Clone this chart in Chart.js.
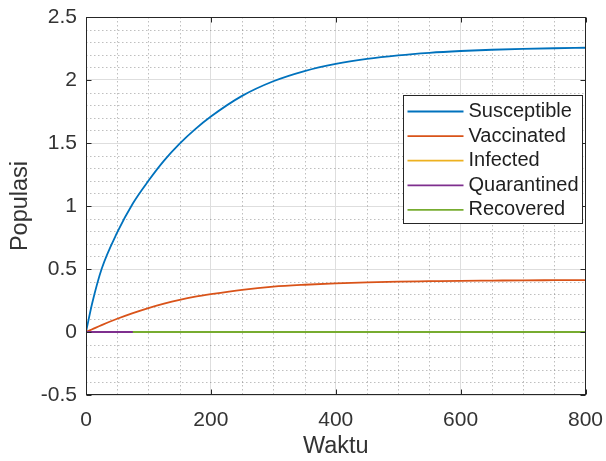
<!DOCTYPE html>
<html lang="en">
<head>
<meta charset="UTF-8">
<title>Populasi vs Waktu</title>
<script src="https://cdn.jsdelivr.net/npm/chart.js"></script>
<style>
    html, body { margin: 0; padding: 0; background: #fff; }
    #chart { display: block; }
</style>
</head>
<body>
<canvas id="chart" width="606" height="461"></canvas>
<script>
// time points (Waktu), shared by every series
var waktu = [0, 10, 25, 50, 75, 100, 125, 150, 175, 200, 250, 300, 350, 400, 450, 500, 550, 600, 650, 700, 750, 800];

// population values
var susceptible = [0, 0.23, 0.50, 0.79, 1.02, 1.20, 1.36, 1.495, 1.61, 1.71, 1.874, 1.99, 2.071, 2.128, 2.168, 2.196, 2.216, 2.23, 2.24, 2.247, 2.252, 2.256];
var vaccinated  = [0, 0.022, 0.055, 0.105, 0.15, 0.19, 0.225, 0.255, 0.28, 0.30, 0.335, 0.36, 0.375, 0.386, 0.394, 0.40, 0.403, 0.406, 0.408, 0.41, 0.411, 0.412];
var infected    = [0, 0, 0, 0, 0, 0, 0, 0, 0, 0, 0, 0, 0, 0, 0, 0, 0, 0, 0, 0, 0, 0];
var quarantined = [0, 0, 0, 0, 0, 0, 0, 0, 0, 0, 0, 0, 0, 0, 0, 0, 0, 0, 0, 0, 0, 0];
var recovered   = [null, null, null, null, 0, 0, 0, 0, 0, 0, 0, 0, 0, 0, 0, 0, 0, 0, 0, 0, 0, 0];

var seriesNames  = ['Susceptible', 'Vaccinated', 'Infected', 'Quarantined', 'Recovered'];
var seriesColors = ['#0072bd', '#d95319', '#edb120', '#7e2f8e', '#77ac30'];

var xTicks = [0, 200, 400, 600, 800];
var yTicks = [-0.5, 0, 0.5, 1, 1.5, 2, 2.5];

var FONT = '"Liberation Sans", Arial, Helvetica, sans-serif';
var AXIS_COLOR = '#262626';

function toPoints(values) {
    return waktu.map(function (t, i) { return { x: t, y: values[i] }; });
}

// keep the plot box exactly where the layout padding puts it
function noLabelOverhang(scale) {
    scale.paddingLeft = 0;
    scale.paddingRight = 0;
    scale.paddingTop = 0;
    scale.paddingBottom = 0;
}

// MATLAB-like axes: dotted minor grid, boxed axes with inner ticks, legend inside
var matlabAxes = {
    id: 'matlabAxes',
    beforeDatasetsDraw: function (chart) {
        var ctx = chart.ctx, a = chart.chartArea;
        var xs = chart.scales.x, ys = chart.scales.y;
        ctx.save();
        ctx.strokeStyle = 'rgba(25,25,25,0.28)';
        ctx.lineWidth = 1;
        ctx.setLineDash([1.5, 2.5]);
        ctx.beginPath();
        for (var v = 50; v < 800; v += 50) {
            if (v % 200 === 0) continue;
            var px = Math.round(xs.getPixelForValue(v)) + 0.5;
            ctx.moveTo(px, a.top);
            ctx.lineTo(px, a.bottom);
        }
        for (var k = -4; k < 25; k++) {
            if (k % 5 === 0) continue;
            var py = Math.round(ys.getPixelForValue(k / 10)) + 0.5;
            ctx.moveTo(a.left, py);
            ctx.lineTo(a.right, py);
        }
        ctx.stroke();
        ctx.restore();
    },
    afterDraw: function (chart) {
        var ctx = chart.ctx, a = chart.chartArea;
        var xs = chart.scales.x, ys = chart.scales.y;
        var tl = 5;
        ctx.save();
        ctx.strokeStyle = AXIS_COLOR;
        ctx.lineWidth = 1;
        ctx.setLineDash([]);
        var L = Math.round(a.left) + 0.5, R = Math.round(a.right) - 0.5;
        var T = Math.round(a.top) + 0.5, B = Math.round(a.bottom) - 0.5;
        ctx.strokeRect(L, T, R - L, B - T);
        ctx.beginPath();
        xTicks.forEach(function (v) {
            var px = Math.round(xs.getPixelForValue(v)) + 0.5;
            ctx.moveTo(px, B); ctx.lineTo(px, B - tl);
            ctx.moveTo(px, T); ctx.lineTo(px, T + tl);
        });
        yTicks.forEach(function (v) {
            var py = Math.round(ys.getPixelForValue(v)) + 0.5;
            ctx.moveTo(L, py); ctx.lineTo(L + tl, py);
            ctx.moveTo(R, py); ctx.lineTo(R - tl, py);
        });
        ctx.stroke();

        // legend box
        var boxR = R - 3, boxT = T + 78, boxW = 179, boxH = 128;
        var boxL = boxR - boxW;
        ctx.fillStyle = '#fff';
        ctx.fillRect(boxL, boxT, boxW, boxH);
        ctx.strokeStyle = AXIS_COLOR;
        ctx.strokeRect(boxL, boxT, boxW, boxH);
        ctx.font = '20px ' + FONT;
        ctx.textBaseline = 'middle';
        ctx.textAlign = 'left';
        chart.data.datasets.forEach(function (ds, i) {
            var y = boxT + 16 + i * 24.6;
            ctx.strokeStyle = ds.borderColor;
            ctx.lineWidth = 1.8;
            ctx.beginPath();
            ctx.moveTo(boxL + 4, y);
            ctx.lineTo(boxL + 60, y);
            ctx.stroke();
            ctx.fillStyle = '#1f1f1f';
            ctx.fillText(ds.label, boxL + 65, y);
        });
        ctx.restore();
    }
};

var datasets = [susceptible, vaccinated, infected, quarantined, recovered].map(function (vals, i) {
    return {
        label: seriesNames[i],
        data: toPoints(vals),
        borderColor: seriesColors[i],
        backgroundColor: seriesColors[i],
        borderWidth: 1.8,
        pointRadius: 0,
        fill: false,
        cubicInterpolationMode: 'monotone',
        spanGaps: false,
        order: seriesNames.length - i
    };
});

new Chart(document.getElementById('chart'), {
    type: 'line',
    data: { datasets: datasets },
    plugins: [matlabAxes],
    options: {
        responsive: false,
        animation: false,
        devicePixelRatio: 1,
        layout: { padding: { top: 17, right: 20.5, left: 0, bottom: 0 } },
        plugins: {
            legend: { display: false },
            tooltip: { enabled: false }
        },
        scales: {
            x: {
                type: 'linear',
                min: 0,
                max: 800,
                afterBuildTicks: function (scale) {
                    scale.ticks = xTicks.map(function (v) { return { value: v }; });
                },
                afterFit: function (scale) {
                    scale.height = 66;
                    noLabelOverhang(scale);
                },
                grid: { color: '#dedede', lineWidth: 1, drawTicks: false },
                border: { display: false },
                ticks: {
                    padding: 13,
                    color: '#333',
                    font: { family: FONT, size: 21 },
                    maxRotation: 0,
                    callback: function (v) { return String(v); }
                },
                title: {
                    display: true,
                    text: 'Waktu',
                    color: '#333',
                    font: { family: FONT, size: 23.5 },
                    padding: 0
                }
            },
            y: {
                min: -0.5,
                max: 2.5,
                afterBuildTicks: function (scale) {
                    scale.ticks = yTicks.map(function (v) { return { value: v }; });
                },
                afterFit: function (scale) {
                    scale.width = 86;
                    noLabelOverhang(scale);
                },
                grid: { color: '#dedede', lineWidth: 1, drawTicks: false },
                border: { display: false },
                ticks: {
                    padding: 9,
                    color: '#333',
                    font: { family: FONT, size: 21 },
                    callback: function (v) { return String(v); }
                },
                title: {
                    display: true,
                    text: 'Populasi',
                    color: '#333',
                    font: { family: FONT, size: 23.5 },
                    padding: { top: 6, bottom: 0 }
                }
            }
        }
    }
});
</script>
</body>
</html>
